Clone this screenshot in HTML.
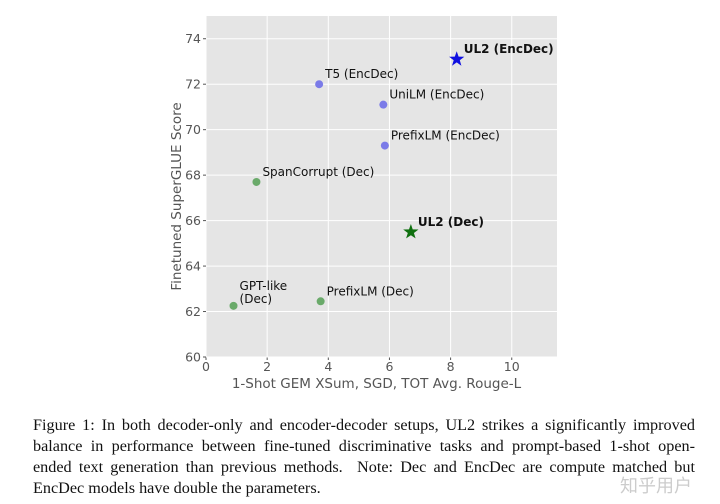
<!DOCTYPE html>
<html><head><meta charset="utf-8"><style>
body{margin:0;width:720px;height:504px;background:#fff;overflow:hidden;position:relative}
svg{position:absolute;left:0;top:0}
.cap{position:absolute;left:33px;top:415px;width:662px;font-family:"Liberation Serif",serif;font-size:16.2px;line-height:21px;color:#111}
.cap div{text-align:justify;text-align-last:justify;white-space:nowrap;height:21px}
.cap div.last{text-align-last:left}
.wm{position:absolute;left:620px;top:472px;font-family:"Liberation Sans","Noto Sans CJK SC",sans-serif;font-size:18px;color:#ccc}
</style></head><body>
<svg width="720" height="504" id="chart" font-family="DejaVu Sans, Liberation Sans, sans-serif"></svg>
<div class="cap"><div>Figure 1: In both decoder-only and encoder-decoder setups, UL2 strikes a significantly improved</div><div>balance in performance between fine-tuned discriminative tasks and prompt-based 1-shot open-</div><div>ended text generation than previous methods.&nbsp; Note: Dec and EncDec are compute matched but</div><div class="last">EncDec models have double the parameters.</div></div>
<div class="wm">知乎用户</div>
<script>
const names=["T5 (EncDec)","UniLM (EncDec)","PrefixLM (EncDec)","SpanCorrupt (Dec)","GPT-like|(Dec)","PrefixLM (Dec)","UL2 (Dec)","UL2 (EncDec)"];
const xVals=[3.7,5.8,5.85,1.65,0.9,3.75,6.7,8.2];
const yVals=[72.0,71.1,69.3,67.7,62.25,62.45,65.5,73.1];
const groups=["enc","enc","enc","dec","dec","dec","ul2dec","ul2enc"];
const xTicks=[0,2,4,6,8,10];
const yTicks=[60,62,64,66,68,70,72,74];
const X0=206,X1=557,Y0=16,Y1=357,xmin=0,xmax=11.48,ymin=60,ymax=75;
const sx=v=>X0+(v-xmin)/(xmax-xmin)*(X1-X0);
const sy=v=>Y1-(v-ymin)/(ymax-ymin)*(Y1-Y0);
const svg=document.getElementById('chart');const NS='http://www.w3.org/2000/svg';
function mk(t,a,p){const e=document.createElementNS(NS,t);for(const k in a)e.setAttribute(k,a[k]);(p||svg).appendChild(e);return e;}
let bg=mk('rect',{x:X0,y:Y0,width:X1-X0,height:Y1-Y0,fill:'#e5e5e5'});


xTicks.forEach(t=>{
 let g=mk('line',{x1:sx(t),x2:sx(t),y1:Y0,y2:Y1,stroke:'#fff','stroke-width':1});
 
 
 mk('line',{x1:sx(t),x2:sx(t),y1:Y1,y2:Y1+3,stroke:'#555'});
 let l=mk('text',{x:sx(t),y:Y1+14,'text-anchor':'middle','font-size':12.5,fill:'#555'});l.textContent=t;
 
 
});
yTicks.forEach(t=>{
 let g=mk('line',{x1:X0,x2:X1,y1:sy(t),y2:sy(t),stroke:'#fff','stroke-width':1});
 
 
 mk('line',{x1:X0-3,x2:X0,y1:sy(t),y2:sy(t),stroke:'#555'});
 let l=mk('text',{x:X0-5,y:sy(t)+4.5,'text-anchor':'end','font-size':12.5,fill:'#555'});l.textContent=t;
 
 
});
let xt=mk('text',{x:(X0+X1)/2-5,y:388,'text-anchor':'middle','font-size':13.5,fill:'#555'});xt.textContent='1-Shot GEM XSum, SGD, TOT Avg. Rouge-L';


let yt=mk('text',{x:0,y:0,'text-anchor':'middle','font-size':13.5,fill:'#555',transform:`translate(181,${(Y0+Y1)/2+10}) rotate(-90)`});yt.textContent='Finetuned SuperGLUE Score';


function star(cx,cy,r,fill){let p=[];for(let i=0;i<10;i++){const rr=i%2?r*0.4:r;const a=-Math.PI/2+i*Math.PI/5;p.push((cx+rr*Math.cos(a)).toFixed(1)+','+(cy+rr*Math.sin(a)).toFixed(1));}return mk('polygon',{points:p.join(' '),fill:fill});}
names.forEach((n,i)=>{
 const cx=sx(xVals[i]),cy=sy(yVals[i]),gp=groups[i];let m;
 if(gp==='enc')m=mk('circle',{cx,cy,r:4,fill:'#7b7be8'});
 else if(gp==='dec')m=mk('circle',{cx,cy,r:4,fill:'#6aaa6a'});
 else m=star(cx,cy,8,gp==='ul2enc'?'#1010e0':'#107010');
 
 
 const bold=gp.startsWith('ul2');
 const parts=n.split('|');
 parts.forEach((p,j)=>{
  let t=mk('text',{x:cx+(bold?7:6),y:cy-(parts.length>1?16-j*13:6),'font-size':12,'font-weight':bold?'bold':'normal',fill:'#111'});
  t.textContent=p;
  
  
 });
});
</script>
</body></html>
